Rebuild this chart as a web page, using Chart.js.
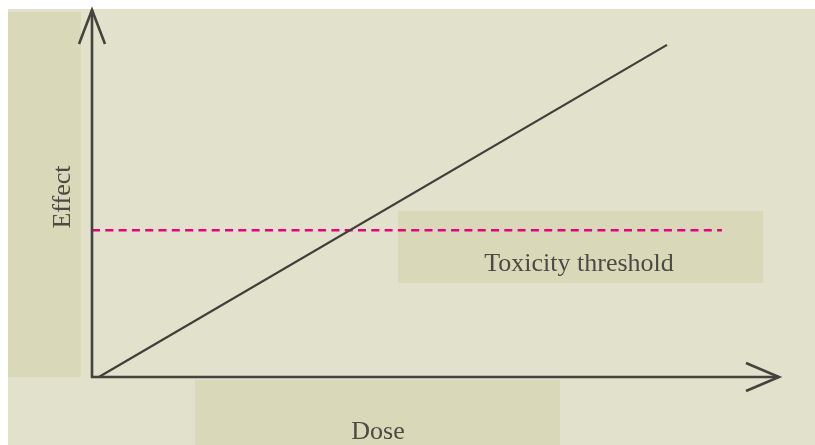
<!DOCTYPE html>
<html>
<head>
<meta charset="utf-8">
<script src="https://cdn.jsdelivr.net/npm/chart.js@4/dist/chart.umd.min.js"></script>
<style>
  html, body { margin: 0; padding: 0; background: #ffffff; }
  canvas { display: block; }
</style>
</head>
<body>
<canvas id="chart" width="815" height="445"></canvas>
<script>
// Dose-effect line (arbitrary units, 0-100 on both axes)
const doseValues = [1, 83.7];
const effectValues = [0, 90.5];

// Toxicity threshold (horizontal dashed line)
const thresholdEffect = 40;
const thresholdDose = [0, 91.7];

// Labels
const xTitle = 'Dose';
const yTitle = 'Effect';
const thresholdLabel = 'Toxicity threshold';

const inkColor = '#44443f';
const textColor = '#4b4b45';
const serif = '"Liberation Serif", "DejaVu Serif", serif';

// Fundo e caixas de rótulos
const backgroundPlugin = {
    id: 'backgroundPlugin',
    beforeDraw(chart) {
        const ctx = chart.ctx;
        ctx.save();
        ctx.fillStyle = '#ffffff';
        ctx.fillRect(0, 0, chart.width, chart.height);
        ctx.fillStyle = '#e2e1cb';
        ctx.fillRect(8, 9, chart.width - 8, chart.height - 9);
        ctx.fillStyle = '#d9d9b9';
        ctx.fillRect(8, 12, 73, 365);      // faixa do eixo Y
        ctx.fillRect(195, 380, 365, 65);   // caixa do eixo X
        ctx.fillRect(398, 211, 365, 72);   // caixa do limiar
        ctx.restore();
    }
};

// Eixos com setas e textos
const axesPlugin = {
    id: 'axesPlugin',
    afterDraw(chart) {
        const ctx = chart.ctx;
        const area = chart.chartArea;
        const x0 = area.left, y0 = area.bottom;
        ctx.save();
        ctx.strokeStyle = inkColor;
        ctx.lineWidth = 2.6;
        ctx.lineCap = 'butt';
        ctx.lineJoin = 'miter';

        // eixo Y
        ctx.beginPath();
        ctx.moveTo(x0, y0 + 1);
        ctx.lineTo(x0, area.top);
        ctx.stroke();
        ctx.beginPath();
        ctx.moveTo(x0 - 13, area.top + 34);
        ctx.lineTo(x0, area.top);
        ctx.lineTo(x0 + 13, area.top + 34);
        ctx.stroke();

        // eixo X
        ctx.beginPath();
        ctx.moveTo(x0 - 1, y0);
        ctx.lineTo(area.right, y0);
        ctx.stroke();
        ctx.beginPath();
        ctx.moveTo(area.right - 33, y0 - 14);
        ctx.lineTo(area.right, y0);
        ctx.lineTo(area.right - 33, y0 + 14);
        ctx.stroke();

        // textos
        ctx.fillStyle = textColor;
        ctx.font = '26px ' + serif;
        ctx.textAlign = 'center';
        ctx.textBaseline = 'alphabetic';
        ctx.fillText(thresholdLabel, 579, 271);
        ctx.fillText(xTitle, 378, 439);

        ctx.translate(70, 197);
        ctx.rotate(-Math.PI / 2);
        ctx.fillText(yTitle, 0, 0);
        ctx.restore();
    }
};

const ctx = document.getElementById('chart').getContext('2d');
new Chart(ctx, {
    type: 'scatter',
    data: {
        datasets: [
            {
                label: 'Effect',
                data: doseValues.map((d, i) => ({ x: d, y: effectValues[i] })),
                showLine: true,
                borderColor: '#3f3f3b',
                borderWidth: 2.2,
                pointRadius: 0,
                clip: false
            },
            {
                label: thresholdLabel,
                data: thresholdDose.map(d => ({ x: d, y: thresholdEffect })),
                showLine: true,
                borderColor: '#e8007f',
                borderWidth: 2.6,
                borderDash: [8, 5.3],
                pointRadius: 0,
                clip: false
            }
        ]
    },
    options: {
        responsive: false,
        animation: false,
        devicePixelRatio: 1,
        layout: { padding: { left: 92, top: 10, right: 36, bottom: 68 } },
        plugins: {
            legend: { display: false },
            tooltip: { enabled: false }
        },
        scales: {
            x: { type: 'linear', min: 0, max: 100, display: false },
            y: { type: 'linear', min: 0, max: 100, display: false }
        }
    },
    plugins: [backgroundPlugin, axesPlugin]
});
</script>
</body>
</html>
